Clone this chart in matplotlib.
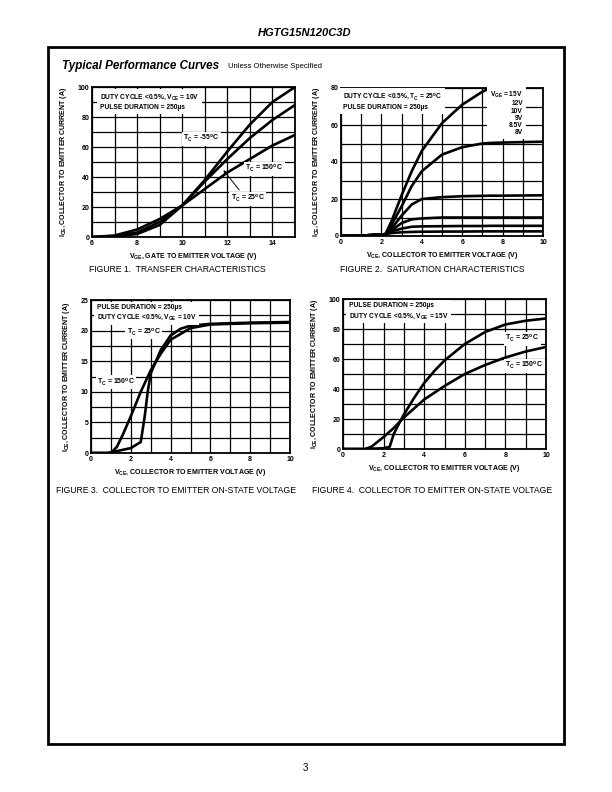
import matplotlib
matplotlib.use('Agg')

import matplotlib.pyplot as plt
from matplotlib.patches import Rectangle

plt.rcParams['font.family'] = ['Liberation Sans', 'DejaVu Sans']
plt.rcParams['mathtext.fontset'] = 'custom'
plt.rcParams['mathtext.rm'] = 'Liberation Sans:bold'
plt.rcParams['mathtext.it'] = 'Liberation Sans:bold:italic'
plt.rcParams['mathtext.bf'] = 'Liberation Sans:bold'
plt.rcParams['mathtext.default'] = 'rm'

W, H = 612, 792

# Figure 1: transfer characteristics (I_CE vs V_GE)
f1_vge = [6, 7, 8, 9, 10, 11, 12, 13, 14, 15]
f1_m55 = [0, 0.2, 2, 8, 21, 38, 57, 75, 90, 100]
f1_25 = [0, 0.5, 3, 10, 21, 37, 52, 66, 78, 88]
f1_150 = [0, 1, 5, 12, 21, 32, 43, 52, 61, 68]

# Figure 2: saturation characteristics, one curve per V_GE
f2_vce = [0, 1, 2, 2.2, 2.5, 3, 3.5, 4, 5, 6, 7, 7.4, 8, 10]
f2_curves = {
    '15V': [0, 0.2, 0.8, 1, 8, 22, 35, 46, 61, 71, 78, 80, None, None],
    '12V': [0, 0.2, 0.8, 1, 6, 16, 27, 35, 44, 48, 50, 50.3, 50.5, 51],
    '10V': [0, 0.2, 0.8, 1, 4, 11, 17, 20, 21, 21.5, 21.7, 21.8, 21.8, 22],
    '9V': [0, 0.2, 0.8, 1, 3, 7, 9, 9.5, 10, 10, 10, 10, 10, 10],
    '8.5V': [0, 0.2, 0.8, 1, 2.5, 4, 5, 5.2, 5.3, 5.4, 5.4, 5.5, 5.5, 5.5],
    '8V': [0, 0.2, 0.8, 1, 1.6, 2, 2.2, 2.3, 2.4, 2.4, 2.5, 2.5, 2.5, 2.5],
}

# Figure 3: on-state voltage, V_GE = 10V
f3_25_vce = [0, 0.8, 1, 2, 2.5, 2.7, 2.85, 3, 3.5, 4, 4.5, 5, 6, 8, 10]
f3_25_ice = [0, 0, 0.1, 0.8, 1.8, 6, 10, 13, 16.8, 19.2, 20.3, 20.8, 21.1, 21.3, 21.4]
f3_150_vce = [0, 1, 1.3, 1.6, 2, 2.5, 3, 3.5, 4, 5, 6, 8, 10]
f3_150_ice = [0, 0, 1, 3, 6, 10, 13.5, 16.2, 18.5, 20.4, 21, 21.2, 21.3]

# Figure 4: on-state voltage, V_GE = 15V
f4_25_vce = [0, 1, 2, 2.3, 2.5, 2.8, 3, 3.5, 4, 4.5, 5, 6, 7, 8, 9, 10]
f4_25_ice = [0, 0, 0.5, 1.5, 10, 18, 23, 34, 44, 52, 59, 70, 78, 83, 85.5, 87]
f4_150_vce = [0, 1.1, 1.4, 2, 2.5, 3, 3.5, 4, 5, 6, 7, 8, 9, 10]
f4_150_ice = [0, 0, 1.5, 8, 14, 21, 27, 33, 42, 50, 56, 61, 65, 68]

fig = plt.figure(figsize=(W / 100, H / 100), dpi=100)


def px_axes(left, top, right, bottom):
    return fig.add_axes([left / W, 1 - bottom / H, (right - left) / W, (bottom - top) / H])


def fig_text(x, y, s, **kw):
    fig.text(x / W, 1 - y / H, s, **kw)


def setup(ax, xlim, ylim, xstep, ystep, xticks, yticks, xlabel, ylabel, caption, cap_x, cap_y):
    ax.set_xlim(*xlim)
    ax.set_ylim(*ylim)
    x = xlim[0]
    while x <= xlim[1] + 1e-9:
        ax.axvline(x, color='black', lw=0.9, zorder=1)
        x += xstep
    y = ylim[0]
    while y <= ylim[1] + 1e-9:
        ax.axhline(y, color='black', lw=0.9, zorder=1)
        y += ystep
    ax.set_xticks(xticks)
    ax.set_yticks(yticks)
    ax.tick_params(length=0, labelsize=5, pad=2)
    for lab in ax.get_xticklabels() + ax.get_yticklabels():
        lab.set_fontweight('bold')
    for sp in ax.spines.values():
        sp.set_linewidth(1.3)
    ax.set_xlabel(xlabel, fontsize=5, fontweight='bold', labelpad=3)
    ax.set_ylabel(ylabel, fontsize=5, fontweight='bold', labelpad=6)
    fig_text(cap_x, cap_y, caption, fontsize=6.2, ha='center', va='center')


def box(ax, x, y, lines, ha='left', spacing=1.35, size=4.8):
    t = ax.text(x, y, '\n'.join(lines), fontsize=size, fontweight='bold', ha=ha, va='top',
                linespacing=spacing, zorder=3,
                bbox=dict(facecolor='white', edgecolor='none', pad=2))
    return t


def label(ax, x, y, s):
    ax.text(x, y, s, fontsize=5, fontweight='bold', zorder=3,
            bbox=dict(facecolor='white', edgecolor='none', pad=1))


curve = dict(color='black', lw=1.9, zorder=2, solid_capstyle='round')
ylab = 'I$_{CE}$, COLLECTOR TO EMITTER CURRENT (A)'

# page frame and header
fig.patches.append(Rectangle((48 / W, 1 - 744 / H), (564 - 48) / W, (744 - 47) / H,
                             transform=fig.transFigure, fill=False, lw=2, color='black'))
fig_text(305, 33, 'HGTG15N120C3D', fontsize=8, fontweight='bold', style='italic',
         ha='center', va='center')
fig_text(62, 66, 'Typical Performance Curves', fontsize=8.4, fontweight='bold',
         style='italic', ha='left', va='center')
fig_text(228, 67, 'Unless Otherwise Specified', fontsize=5.5, ha='left', va='center')
fig_text(305, 768, '3', fontsize=7, ha='center', va='center')

# Figure 1
ax1 = px_axes(92, 87, 295, 237)
setup(ax1, (6, 15), (0, 100), 1, 10, [6, 8, 10, 12, 14], [0, 20, 40, 60, 80, 100],
      'V$_{GE}$, GATE TO EMITTER VOLTAGE (V)', ylab,
      'FIGURE 1.  TRANSFER CHARACTERISTICS', 177, 270)
ax1.plot(f1_vge, f1_m55, **curve)
ax1.plot(f1_vge, f1_25, **curve)
ax1.plot(f1_vge, f1_150, **curve)
box(ax1, 6.35, 96, ['DUTY CYCLE <0.5%, V$_{CE}$ = 10V', 'PULSE DURATION = 250µs'])
label(ax1, 10.05, 64, 'T$_C$ = -55$^o$C')
label(ax1, 12.8, 44, 'T$_C$ = 150$^o$C')
label(ax1, 12.15, 24, 'T$_C$ = 25$^o$C')
ax1.annotate('', xy=(11.75, 46), xytext=(12.6, 30),
             arrowprops=dict(arrowstyle='-|>', color='black', lw=0.7,
                             mutation_scale=5), zorder=3)

# Figure 2
ax2 = px_axes(341, 88, 543, 236)
setup(ax2, (0, 10), (0, 80), 1, 10, [0, 2, 4, 6, 8, 10], [0, 20, 40, 60, 80],
      'V$_{CE}$, COLLECTOR TO EMITTER VOLTAGE (V)', ylab,
      'FIGURE 2.  SATURATION CHARACTERISTICS', 432, 270)
for name, vals in f2_curves.items():
    xs = [v for v, i in zip(f2_vce, vals) if i is not None]
    ys = [i for i in vals if i is not None]
    ax2.plot(xs, ys, **curve)
box(ax2, 0.1, 78, ['DUTY CYCLE <0.5%, T$_C$ = 25$^o$C', 'PULSE DURATION = 250µs'])
box(ax2, 9.0, 79, ['V$_{GE}$ = 15V'] + list(f2_curves.keys())[1:], ha='right',
    spacing=1.05)

# Figure 3
ax3 = px_axes(91, 300, 290, 453)
setup(ax3, (0, 10), (0, 25), 1, 2.5, [0, 2, 4, 6, 8, 10], [0, 5, 10, 15, 20, 25],
      'V$_{CE}$, COLLECTOR TO EMITTER VOLTAGE (V)', ylab,
      'FIGURE 3.  COLLECTOR TO EMITTER ON-STATE VOLTAGE', 176, 490)
ax3.plot(f3_25_vce, f3_25_ice, **curve)
ax3.plot(f3_150_vce, f3_150_ice, **curve)
box(ax3, 0.3, 24.4, ['PULSE DURATION = 250µs', 'DUTY CYCLE <0.5%, V$_{GE}$ = 10V'])
label(ax3, 1.8, 19.4, 'T$_C$ = 25$^o$C')
label(ax3, 0.3, 11.2, 'T$_C$ = 150$^o$C')

# Figure 4
ax4 = px_axes(343, 299, 546, 449)
setup(ax4, (0, 10), (0, 100), 1, 10, [0, 2, 4, 6, 8, 10], [0, 20, 40, 60, 80, 100],
      'V$_{CE}$, COLLECTOR TO EMITTER VOLTAGE (V)', ylab,
      'FIGURE 4.  COLLECTOR TO EMITTER ON-STATE VOLTAGE', 432, 490)
ax4.plot(f4_25_vce, f4_25_ice, **curve)
ax4.plot(f4_150_vce, f4_150_ice, **curve)
box(ax4, 0.3, 98, ['PULSE DURATION = 250µs', 'DUTY CYCLE <0.5%, V$_{GE}$ = 15V'])
label(ax4, 8.0, 72, 'T$_C$ = 25$^o$C')
label(ax4, 8.0, 54, 'T$_C$ = 150$^o$C')

fig.savefig('out.png', dpi=100)
